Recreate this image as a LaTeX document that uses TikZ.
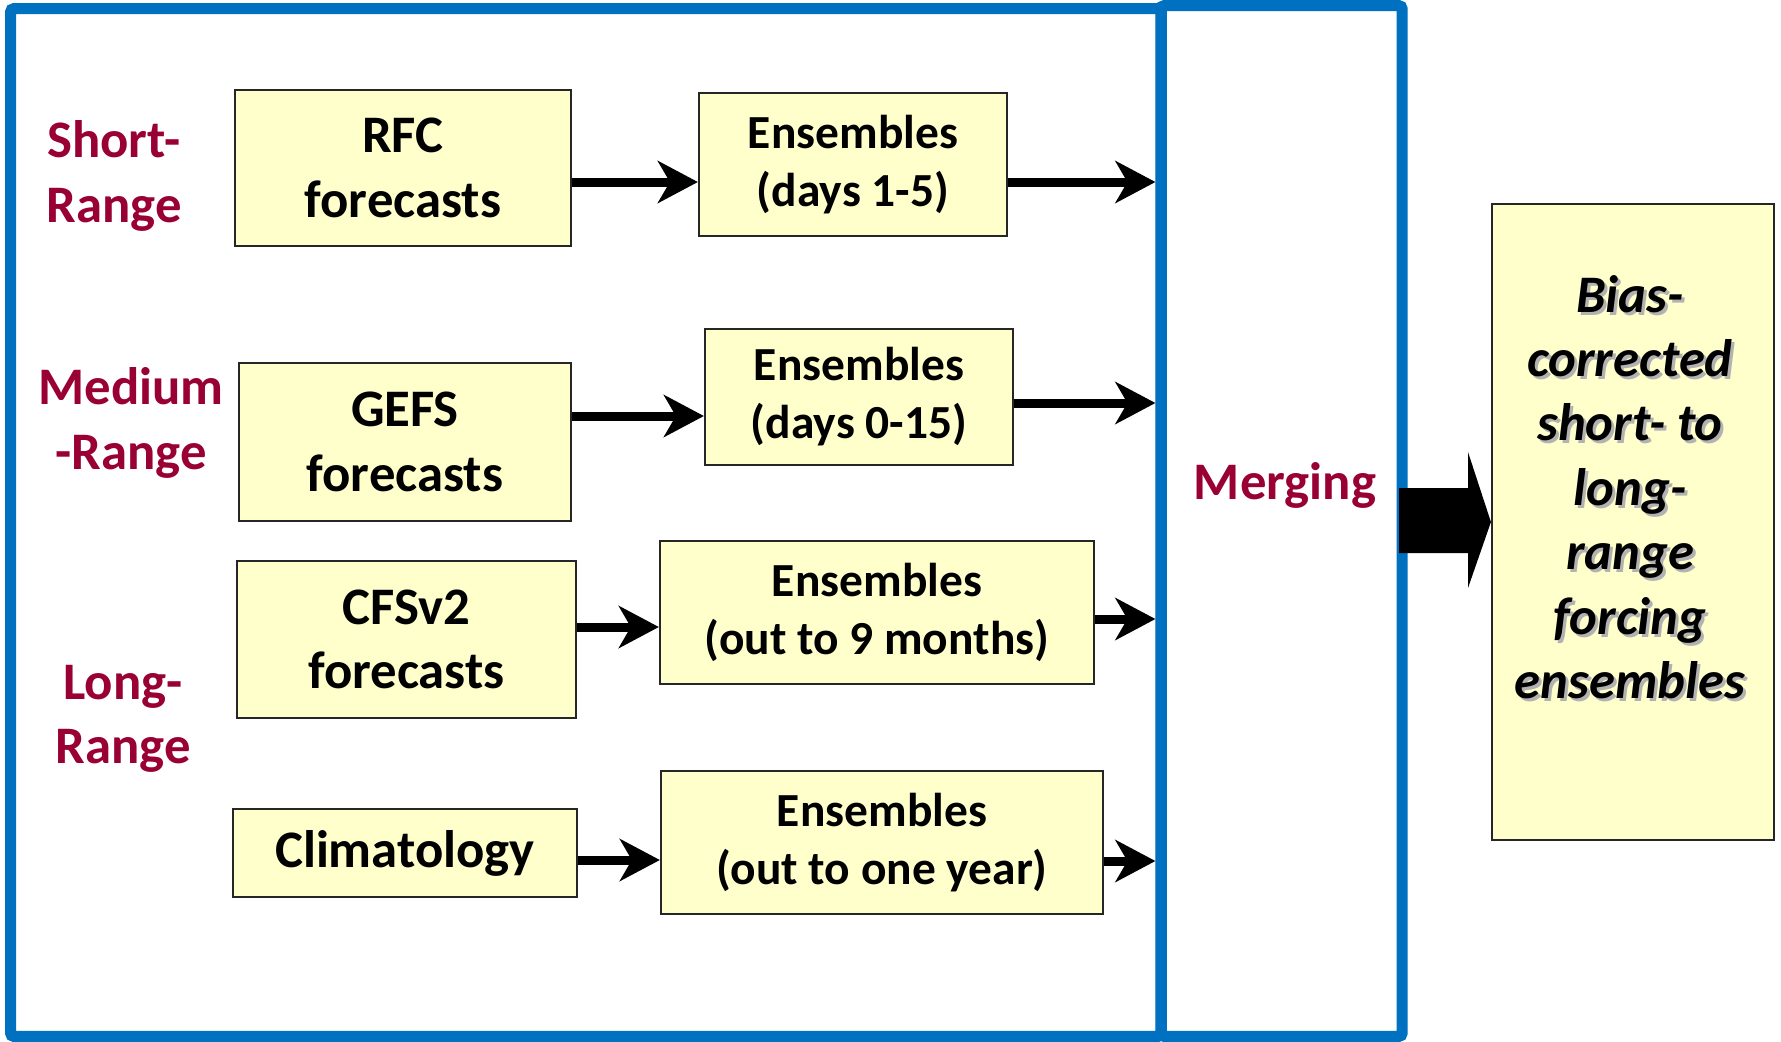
\documentclass[tikz,border=0pt]{standalone}
\usepackage{fontspec}
\setmainfont{Carlito}
\usetikzlibrary{
  arrows.meta,
  positioning,
  calc
}
\definecolor{FrameBlue}{HTML}{0070C0}
\definecolor{BoxYellow}{HTML}{FFFFCC}
\definecolor{RangeRed}{HTML}{990033}
\tikzset{
  box/.style={
    draw=black!85,
    line width=0.02cm,
    fill=BoxYellow,
    align=center,
    inner sep=0pt,
    font=\fontsize{15}{18.3}\selectfont\bfseries
  },
  ensbox/.style={
    box,
    font=\fontsize{13.5}{16.5}\selectfont\bfseries
  },
  panel/.style={
    draw=FrameBlue,
    line width=0.11cm,
    rounded corners=0.03cm,
    inner sep=0pt
  },
  rangelabel/.style={
    text=RangeRed,
    align=center,
    inner sep=0pt,
    font=\fontsize{15}{18.3}\selectfont\bfseries
  },
  resultfont/.style={
    align=center,
    inner sep=0pt,
    font=\fontsize{15}{18.3}\selectfont\bfseries\itshape
  },
  flow/.style={
    -{Stealth[length=0.4cm,width=0.42cm,inset=0.12cm]},
    line width=0.09cm
  }
}

\begin{document}
\begin{tikzpicture}[x=0.01cm, y=-0.01cm]

  \useasboundingbox (0,0) rectangle (1781,1041);

  % frames
  \node[panel, minimum width=11.5cm, minimum height=10.27cm] (sources) at (586,522.5) {};
  \node[panel, minimum width=2.41cm, minimum height=10.3cm] (merge) at (1281.5,521) {};

  % range labels
  \node[rangelabel] (short) at (114,176) {Short-\\Range};
  \node[rangelabel] (medium) at (131,423) {Medium\\-Range};
  \node[rangelabel] (long) at (123,719) {Long-\\Range};
  \node[rangelabel] (merging) at (1285,485) {Merging};

  % forecast sources
  \node[box, minimum width=3.36cm, minimum height=1.56cm] (rfc) at (403,168) {RFC\\forecasts};
  \node[box, minimum width=3.32cm, minimum height=1.58cm] (gefs) at (405,442) {GEFS\\forecasts};
  \node[box, minimum width=3.39cm, minimum height=1.57cm] (cfs) at (406.5,639.5) {CFSv2\\forecasts};
  \node[box, minimum width=3.44cm, minimum height=0.88cm] (clim) at (405,853) {Climatology};

  % ensembles
  \node[ensbox, minimum width=3.08cm, minimum height=1.43cm] (ens1) at (853,164.5) {Ensembles\\(days 1-5)};
  \node[ensbox, minimum width=3.08cm, minimum height=1.36cm] (ens2) at (859,397) {Ensembles\\(days 0-15)};
  \node[ensbox, minimum width=4.34cm, minimum height=1.43cm] (ens3) at (877,612.5) {Ensembles\\(out to 9 months)};
  \node[ensbox, minimum width=4.42cm, minimum height=1.43cm] (ens4) at (882,842.5) {Ensembles\\(out to one year)};

  % result
  \node[box, minimum width=2.82cm, minimum height=6.36cm] (result) at (1633,522) {};
  \node[resultfont, text=black!30] (resultshadow) at (1633,490) {Bias-\\corrected\\short- to\\long-\\range\\forcing\\ensembles};
  \node[resultfont] (resulttext) at (1630,487) {Bias-\\corrected\\short- to\\long-\\range\\forcing\\ensembles};

  % connections
  \draw[flow] (rfc.east |- 0,182) -- (ens1.west |- 0,182);
  \draw[flow] (gefs.east |- 0,416) -- (ens2.west |- 0,416);
  \draw[flow] (cfs.east |- 0,627) -- (ens3.west |- 0,627);
  \draw[flow] (clim.east |- 0,860) -- (ens4.west |- 0,860);

  \draw[flow] (ens1.east |- 0,182) -- (merge.west |- 0,182);
  \draw[flow] (ens2.east |- 0,403) -- (merge.west |- 0,403);
  \draw[flow] (ens3.east |- 0,619) -- (merge.west |- 0,619);
  \draw[flow] (ens4.east |- 0,861) -- (merge.west |- 0,861);

  % block arrow
  \fill (1399,488) -- (1468,488) -- (1468,452) -- (result.west) -- (1468,588) -- (1468,553) -- (1399,553) -- cycle;

\end{tikzpicture}
\end{document}
